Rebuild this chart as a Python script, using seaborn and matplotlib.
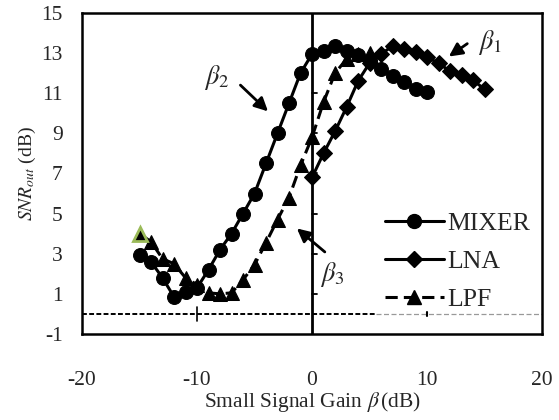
import pandas as pd
import seaborn as sns
import matplotlib
matplotlib.use("Agg")
import matplotlib.pyplot as plt
from matplotlib.lines import Line2D

# values
mixerGain = list(range(-15, 11))
mixerSnr = [2.95, 2.6, 1.8, 0.85, 1.1, 1.3, 2.2, 3.2, 4.0, 5.0, 6.0, 7.5, 9.0,
            10.5, 12.0, 12.95, 13.1, 13.35, 13.1, 12.9, 12.6, 12.2, 11.85,
            11.55, 11.2, 11.05]

lnaGain = list(range(0, 16))
lnaSnr = [6.8, 8.0, 9.1, 10.3, 11.6, 12.5, 12.95, 13.35, 13.2, 13.05, 12.8,
          12.5, 12.1, 11.9, 11.65, 11.2]

lpfGain = list(range(-15, 6))
lpfSnr = [4.0, 3.6, 2.75, 2.5, 1.8, 1.45, 1.05, 1.0, 1.05, 1.7, 2.45, 3.55,
          4.7, 5.8, 7.4, 8.8, 10.55, 12.0, 12.7, 12.95, 13.0]

yTicks = [-1, 1, 3, 5, 7, 9, 11, 13, 15]
xTicks = [-20, -10, 0, 10, 20]

###
def buildFrame():
    frames = []
    for name, gain, snr in [("MIXER", mixerGain, mixerSnr),
                            ("LNA", lnaGain, lnaSnr),
                            ("LPF", lpfGain, lpfSnr)]:
        frames.append(pd.DataFrame({"gain": gain, "snr": snr, "block": name}))
    return pd.concat(frames, ignore_index=True)

###
def plotSnr(data):
    sns.set_style("white")
    plt.rcParams['font.family'] = ['Liberation Serif', 'DejaVu Serif']
    plt.rcParams['mathtext.fontset'] = 'stix'
    plt.rcParams['axes.unicode_minus'] = False

    fig = plt.figure(figsize=(5.59, 4.2), dpi=100)
    ax = fig.add_axes([0.1467, 0.2048, 0.8229, 0.7643])

    # axis lines crossing at zero (Excel style)
    ax.plot([-20, 5.6], [0, 0], color='black', lw=1.4, ls=(0, (2.5, 1.2)), zorder=1)
    ax.plot([5.6, 20], [0, 0], color='#999999', lw=0.9, ls=(0, (4, 2)), zorder=1)
    ax.plot([-10, -10], [-0.35, 0.35], color='black', lw=1.2, zorder=1)
    ax.plot([10, 10], [-0.12, 0.12], color='black', lw=1.5, zorder=1)
    ax.axvline(0, color='black', lw=2, zorder=2)
    for t in yTicks[1:]:
        ax.plot([0, 0.45], [t, t], color='black', lw=1.3, zorder=2)

    styles = {"MIXER": dict(marker='o', ls='-', ms=10),
              "LNA": dict(marker='D', ls='-', ms=8.5),
              "LPF": dict(marker='^', ls=(0, (4, 2)), ms=10.5)}
    for name, st in styles.items():
        sub = data[data["block"] == name]
        sns.lineplot(x="gain", y="snr", data=sub, ax=ax, color='black', lw=2.2,
                     marker=st['marker'], markersize=st['ms'], linestyle=st['ls'],
                     markeredgecolor='black', sort=False, zorder=3)

    # first LPF point is highlighted in the original
    ax.plot(lpfGain[0], lpfSnr[0], marker='^', ms=10.5, color='black',
            markeredgecolor='#9BBB59', markeredgewidth=2, zorder=4)

    ax.set_xlim(-20, 20)
    ax.set_ylim(-1, 15)
    ax.set_xticks(xTicks)
    ax.set_yticks(yTicks)
    ax.tick_params(labelsize=15.5, length=0)
    ax.tick_params(axis='x', pad=27)
    ax.tick_params(axis='y', pad=14)
    for side in ax.spines.values():
        side.set_color('black')
        side.set_linewidth(1.8)

    ax.set_xlabel(r"Small Signal Gain $\beta\,$(dB)", fontsize=15.5, labelpad=0)
    ax.set_ylabel(r"$\mathit{SNR}_{\mathit{out}}$ (dB)", fontsize=14, labelpad=2)

    # beta annotations
    arrowSt = dict(arrowstyle='-|>', color='black', lw=2, mutation_scale=20)
    ax.annotate("", xy=(-3.65, 10.0), xytext=(-6.4, 11.5), arrowprops=arrowSt)
    ax.text(-8.3, 11.8, r"$\beta_2$", fontsize=19, ha='center', va='center')
    ax.annotate("", xy=(11.7, 12.75), xytext=(13.7, 13.55), arrowprops=arrowSt)
    ax.text(15.5, 13.55, r"$\beta_1$", fontsize=19, ha='center', va='center')
    ax.annotate("", xy=(-1.5, 4.35), xytext=(1.3, 3.0), arrowprops=arrowSt)
    ax.text(1.75, 1.95, r"$\beta_3$", fontsize=19, ha='center', va='center')

    handles = [Line2D([], [], color='black', lw=2.2, marker='o', ms=10),
               Line2D([], [], color='black', lw=2.2, marker='D', ms=8.5),
               Line2D([], [], color='black', lw=2.2, marker='^', ms=10.5,
                      ls=(0, (4, 2)))]
    ax.legend(handles, ["MIXER", "LNA", "LPF"], loc='lower right',
              bbox_to_anchor=(1.025, 0.0), frameon=False, fontsize=18.5,
              handlelength=2.3, handletextpad=0.15, labelspacing=0.58)

    fig.savefig("out.png", dpi=100)

###
if __name__ == '__main__':
    snrData = buildFrame()
    plotSnr(snrData)
